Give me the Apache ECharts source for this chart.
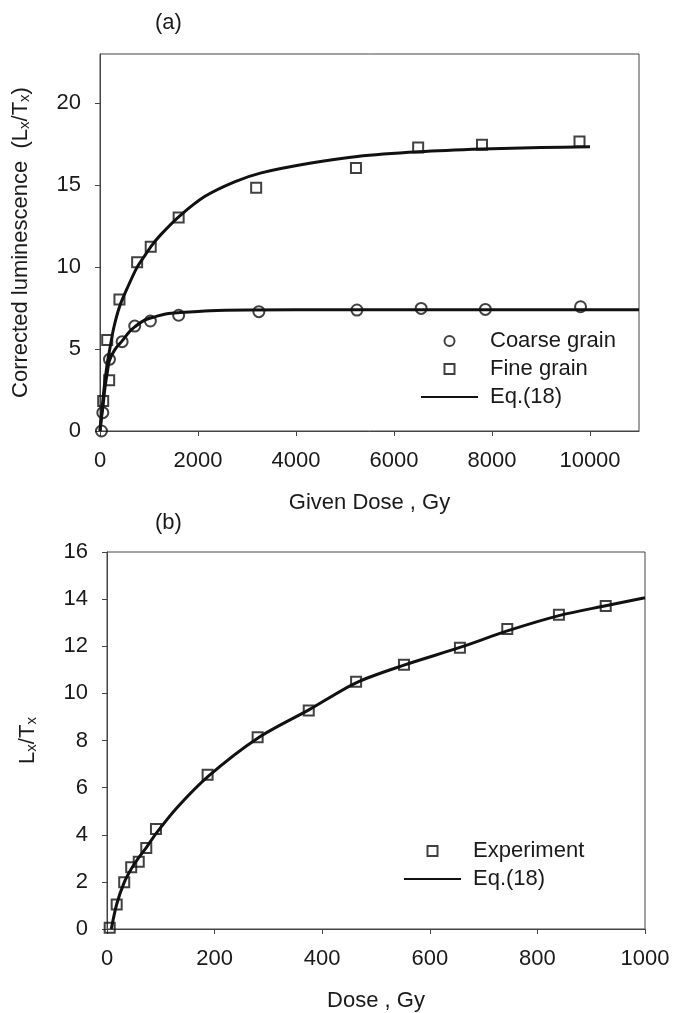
<!DOCTYPE html>
<html>
<head>
<meta charset="utf-8">
<script src="https://cdn.jsdelivr.net/npm/echarts@6/dist/echarts.min.js"></script>
<style>
  html, body { margin: 0; padding: 0; background: #fff; }
  #chart { width: 673px; height: 1013px; }
</style>
</head>
<body>
<div id="chart"></div>
<script>
// (a) coarse grain points [dose, Lx/Tx]
var coarseGrain = [
    [30, 0], [57, 1.12], [193, 4.37], [452, 5.45], [709, 6.40], [1028, 6.71],
    [1605, 7.06], [3242, 7.28], [5244, 7.38], [6554, 7.48], [7865, 7.42], [9807, 7.58]
];
// (a) fine grain points
var fineGrain = [
    [65, 1.83], [187, 3.1], [147, 5.55], [397, 8.03], [758, 10.29], [1035, 11.24],
    [1605, 13.03], [3187, 14.84], [5224, 16.05], [6493, 17.30], [7796, 17.46], [9786, 17.66]
];
// (a) fitted curves
var fineFit = [
    [0, 0], [40, 1.3], [80, 2.5], [147, 4.1], [200, 5.0], [281, 6.3], [400, 7.6],
    [554, 8.7], [750, 9.95], [892, 10.6], [1050, 11.3], [1232, 11.95], [1600, 13.05],
    [2135, 14.3], [2746, 15.2], [3290, 15.75], [4308, 16.35], [5250, 16.75],
    [6500, 17.03], [7800, 17.2], [9000, 17.29], [10000, 17.34]
];
var coarseFit = [
    [0, 0], [30, 0.8], [57, 1.4], [100, 2.6], [150, 3.6], [193, 4.3], [300, 4.95],
    [452, 5.5], [600, 6.05], [709, 6.35], [900, 6.75], [1100, 6.95], [1368, 7.15],
    [1605, 7.22], [2250, 7.34], [3000, 7.38], [5000, 7.4], [11000, 7.4]
];
// (b) experiment points
var experiment = [
    [5, 0.05], [18, 1.04], [32, 1.98], [45, 2.62], [59, 2.85], [73, 3.44], [91, 4.24],
    [187, 6.55], [280, 8.14], [375, 9.27], [463, 10.49], [552, 11.21], [656, 11.94],
    [744, 12.73], [840, 13.34], [927, 13.71]
];
// (b) fitted curve
var expFit = [
    [8, 0], [18, 1.05], [32, 1.98], [45, 2.55], [58, 3.0], [73, 3.45], [91, 4.05],
    [130, 5.15], [189, 6.5], [280, 8.1], [375, 9.3], [463, 10.45], [552, 11.2],
    [656, 11.95], [744, 12.65], [840, 13.3], [927, 13.72], [1000, 14.06]
];
// tick labels
var xTicksA = [0, 2000, 4000, 6000, 8000, 10000];
var yTicksA = [0, 5, 10, 15, 20];

var FONT = '"Liberation Sans", Arial, sans-serif';
var INK = '#1a1a1a';
var AXIS = '#444';

function plain(v) { return String(v); }

function valueAxis(extra) {
    var ax = {
        type: 'value',
        axisLine: { show: true, onZero: false, lineStyle: { color: AXIS, width: 1 } },
        axisTick: { show: true, length: 5, lineStyle: { color: AXIS } },
        axisLabel: { fontSize: 22, color: INK, fontFamily: FONT, margin: 19, formatter: plain },
        splitLine: { show: false },
        nameLocation: 'middle',
        nameTextStyle: { fontSize: 22, color: INK, fontFamily: FONT }
    };
    for (var k in extra) ax[k] = extra[k];
    return ax;
}

var sub = { fontSize: 15, color: INK, fontFamily: FONT, verticalAlign: 'bottom' };
var main = { fontSize: 22, color: INK, fontFamily: FONT };

var lineStyleFit = { color: '#111', width: 3 };
var pointStyle = { color: 'transparent', borderColor: '#111', borderWidth: 2 };
var squareIcon = 'path://M0,0L10,0L10,10L0,10Z';

var myChart = echarts.init(document.getElementById('chart'));
myChart.setOption({
    animation: false,
    backgroundColor: '#fff',
    title: [
        { text: '(a)', left: 150, top: 7, textStyle: { fontSize: 22, fontWeight: 'normal', color: INK, fontFamily: FONT } },
        { text: '(b)', left: 150, top: 507, textStyle: { fontSize: 22, fontWeight: 'normal', color: INK, fontFamily: FONT } }
    ],
    grid: [
        { left: 100, top: 54, width: 539, height: 377, show: true, borderColor: AXIS, borderWidth: 1 },
        { left: 107, top: 552, width: 538, height: 378, show: true, borderColor: AXIS, borderWidth: 1 }
    ],
    xAxis: [
        valueAxis({
            gridIndex: 0, min: 0, max: 11000, interval: 2000,
            axisTick: { show: true, length: 5, lineStyle: { color: AXIS }, customValues: xTicksA },
            axisLabel: { fontSize: 22, color: INK, fontFamily: FONT, margin: 19, formatter: plain, customValues: xTicksA },
            name: 'Given Dose , Gy', nameGap: 61
        }),
        valueAxis({
            gridIndex: 1, min: 0, max: 1000, interval: 200,
            name: 'Dose , Gy', nameGap: 61
        })
    ],
    yAxis: [
        valueAxis({
            gridIndex: 0, min: 0, max: 23, interval: 5,
            axisTick: { show: true, length: 5, lineStyle: { color: AXIS }, customValues: yTicksA },
            axisLabel: { fontSize: 22, color: INK, fontFamily: FONT, margin: 19, formatter: plain, customValues: yTicksA },
            name: '{t|Corrected luminescence  (L}{s|x}{t|/T}{s|x}{t|)}',
            nameGap: 68,
            nameTextStyle: { fontSize: 22, color: INK, fontFamily: FONT, rich: { t: main, s: sub } }
        }),
        valueAxis({
            gridIndex: 1, min: 0, max: 16, interval: 2,
            name: '{t|L}{s|x}{t|/T}{s|x}',
            nameGap: 68,
            nameTextStyle: { fontSize: 22, color: INK, fontFamily: FONT, rich: { t: main, s: sub } }
        })
    ],
    legend: [
        {
            left: 420, top: 330, orient: 'vertical', padding: 0,
            itemWidth: 57, itemHeight: 10, itemGap: 6, symbolKeepAspect: true,
            textStyle: { fontSize: 22, lineHeight: 22, color: INK, fontFamily: FONT, padding: [0, 0, 0, 7] },
            data: [
                { name: 'Coarse grain', icon: 'circle' },
                { name: 'Fine grain', icon: squareIcon },
                'Eq.(18)'
            ]
        },
        {
            left: 403, top: 840, orient: 'vertical', padding: 0,
            itemWidth: 57, itemHeight: 10, itemGap: 6, symbolKeepAspect: true,
            textStyle: { fontSize: 22, lineHeight: 22, color: INK, fontFamily: FONT, padding: [0, 0, 0, 7] },
            data: [
                { name: 'Experiment', icon: squareIcon },
                'Eq.(18)'
            ]
        }
    ],
    series: [
        {
            name: 'Eq.(18)', type: 'line', xAxisIndex: 0, yAxisIndex: 0,
            data: fineFit, symbol: 'none', smooth: 0.3, lineStyle: lineStyleFit,
            itemStyle: { color: 'transparent' }, z: 3
        },
        {
            name: 'Eq.(18)', type: 'line', xAxisIndex: 0, yAxisIndex: 0,
            data: coarseFit, symbol: 'none', smooth: 0.3, lineStyle: lineStyleFit,
            itemStyle: { color: 'transparent' }, z: 3
        },
        {
            name: 'Coarse grain', type: 'scatter', xAxisIndex: 0, yAxisIndex: 0,
            data: coarseGrain, symbol: 'circle', symbolSize: 11, itemStyle: pointStyle, z: 4
        },
        {
            name: 'Fine grain', type: 'scatter', xAxisIndex: 0, yAxisIndex: 0,
            data: fineGrain, symbol: 'rect', symbolSize: 10, itemStyle: pointStyle, z: 4
        },
        {
            name: 'Eq.(18)', type: 'line', xAxisIndex: 1, yAxisIndex: 1,
            data: expFit, symbol: 'none', smooth: 0.3, lineStyle: lineStyleFit,
            itemStyle: { color: 'transparent' }, z: 3
        },
        {
            name: 'Experiment', type: 'scatter', xAxisIndex: 1, yAxisIndex: 1,
            data: experiment, symbol: 'rect', symbolSize: 10, itemStyle: pointStyle, z: 4
        }
    ]
});
</script>
</body>
</html>
